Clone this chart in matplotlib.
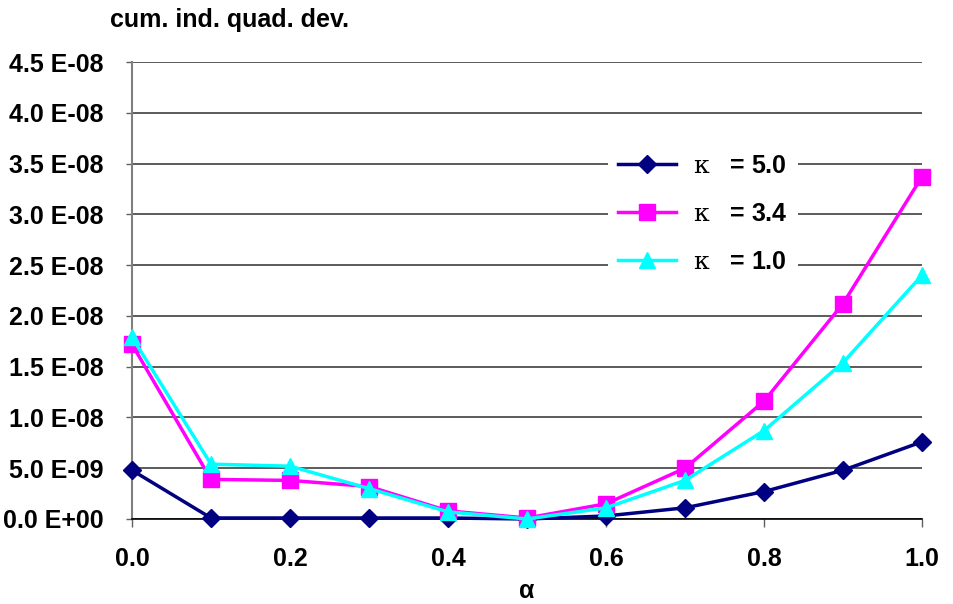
import numpy as np
import matplotlib.pyplot as plt

plt.rcParams['font.family'] = ['Liberation Sans', 'DejaVu Sans']
plt.rcParams['mathtext.fontset'] = 'custom'
plt.rcParams['mathtext.rm'] = 'DejaVu Serif'

alpha = [0.0, 0.1, 0.2, 0.3, 0.4, 0.5, 0.6, 0.7, 0.8, 0.9, 1.0]
# values in units of 1E-09
k50 = [4.8, 0.1, 0.1, 0.1, 0.1, 0.0, 0.3, 1.1, 2.7, 4.8, 7.6]
k34 = [17.2, 3.9, 3.8, 3.2, 0.8, 0.1, 1.5, 5.0, 11.6, 21.2, 33.7]
k10 = [17.9, 5.4, 5.2, 3.0, 0.7, 0.0, 1.1, 3.8, 8.7, 15.4, 24.0]

yticks = [0, 5e-9, 1e-8, 1.5e-8, 2e-8, 2.5e-8, 3e-8, 3.5e-8, 4e-8, 4.5e-8]
ylabels = ['0.0 E+00', '5.0 E-09', '1.0 E-08', '1.5 E-08', '2.0 E-08',
           '2.5 E-08', '3.0 E-08', '3.5 E-08', '4.0 E-08', '4.5 E-08']
xticks = [0.0, 0.2, 0.4, 0.6, 0.8, 1.0]
xlabels = ['0.0', '0.2', '0.4', '0.6', '0.8', '1.0']

W, H = 954, 604
fig = plt.figure(figsize=(W / 100, H / 100), dpi=100)
ax = fig.add_axes([132 / W, 85 / H, (922 - 132) / W, (519 - 62) / H])

a = np.array(alpha)
ax.plot(a, np.array(k50) * 1e-9, color='#000080', lw=2.5, marker='D', ms=9,
        label=r'$\mathrm{\kappa}$   = 5.0', clip_on=False, zorder=3)
ax.plot(a, np.array(k34) * 1e-9, color='#FF00FF', lw=2.5, marker='s', ms=11,
        label=r'$\mathrm{\kappa}$   = 3.4', clip_on=False, zorder=4)
ax.plot(a, np.array(k10) * 1e-9, color='#00FFFF', lw=2.5, marker='^', ms=12,
        label=r'$\mathrm{\kappa}$   = 1.0', clip_on=False, zorder=5)

ax.set_xlim(0, 1)
ax.set_ylim(0, 4.5e-8)
ax.set_yticks(yticks)
ax.set_yticklabels(ylabels, fontsize=18, fontweight='bold')
ax.set_xticks(xticks)
ax.set_xticklabels(xlabels, fontsize=18, fontweight='bold')
ax.tick_params(axis='y', length=4.5, width=1, color='#606060', pad=16)
ax.tick_params(axis='x', length=6, width=1, color='#606060', pad=14)
ax.grid(axis='y', color='#404040', lw=1.2)
ax.set_axisbelow(True)
for s in ['top', 'right']:
    ax.spines[s].set_visible(False)
ax.spines['left'].set_color('#808080')
ax.spines['left'].set_linewidth(1.5)
ax.spines['bottom'].set_color('black')
ax.spines['bottom'].set_linewidth(1.2)

ax.set_xlabel('α', fontsize=18, fontweight='bold', labelpad=6)
fig.text(110 / W, 1 - 20 / H, 'cum. ind. quad. dev.', fontsize=18,
         fontweight='bold', va='center', ha='left')

leg = ax.legend(loc='center', bbox_to_anchor=(703 / W, 1 - 214 / H),
                bbox_transform=fig.transFigure, frameon=True, fancybox=False,
                edgecolor='none', facecolor='white', framealpha=1,
                prop={'size': 18, 'weight': 'bold'}, labelspacing=0.96,
                handlelength=2.3, handletextpad=0.7)

fig.savefig('out.png', dpi=100)
